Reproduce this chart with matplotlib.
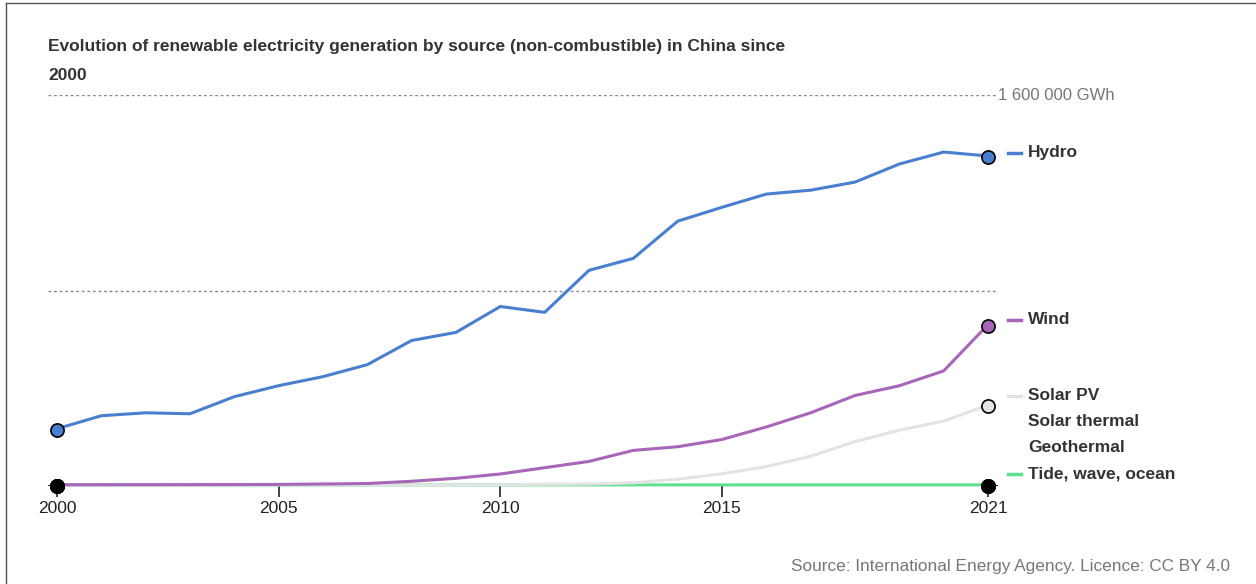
import numpy as np
import matplotlib.pyplot as plt
import matplotlib.transforms as mtransforms
from matplotlib.lines import Line2D

plt.rcParams['font.family'] = ['Liberation Sans', 'DejaVu Sans']

# ── Data (GWh) ─────────────────────────────────────────────────────────────
years = list(range(2000, 2022))

hydro = [229700, 283000, 295000, 291000, 361000, 406000, 443000, 492000,
         591000, 624000, 730000, 706000, 878000, 927000, 1079000, 1136000,
         1190000, 1206000, 1239000, 1313000, 1362000, 1346000]
wind = [600, 700, 900, 1000, 1300, 2000, 3700, 5700,
        14800, 26900, 44600, 70300, 96000, 141200, 156100, 185800,
        237100, 295000, 365800, 405700, 466500, 655600]
solar_pv = [20, 20, 20, 30, 40, 50, 80, 110,
            150, 280, 700, 2600, 3600, 8400, 23500, 45200,
            75000, 117000, 177000, 224000, 261000, 327000]
solar_thermal = [0, 0, 0, 0, 0, 0, 0, 0, 0, 0, 0, 0,
                 0, 0, 0, 0, 0, 0, 200, 400, 1300, 1700]
geothermal = [100, 100, 100, 100, 100, 100, 100, 100, 100, 100, 100, 100,
              100, 100, 100, 100, 120, 120, 130, 130, 130, 130]
tide = [10, 10, 10, 10, 10, 10, 10, 10, 10, 10, 10, 10,
        10, 10, 10, 10, 10, 10, 10, 10, 7, 7]

# drawing order: later entries are drawn on top
series = [
    ("Geothermal", geothermal, "black", "black"),
    ("Solar thermal", solar_thermal, "black", "black"),
    ("Tide, wave, ocean", tide, "#5fe08e", "black"),
    ("Solar PV", solar_pv, "#e3e3e3", "#e3e3e3"),
    ("Wind", wind, "#a866b8", "#a866b8"),
    ("Hydro", hydro, "#4a7fcf", "#4a7fcf"),
]

# label y position in pixels (from top), and whether a colour dash is shown
label_pos = {
    "Hydro": 153, "Wind": 320, "Solar PV": 396,
    "Solar thermal": 422, "Geothermal": 448, "Tide, wave, ocean": 474,
}
dash_labels = {"Hydro", "Wind", "Solar PV", "Tide, wave, ocean"}

W, H = 1256, 584
fig = plt.figure(figsize=(W / 100, H / 100), dpi=100)

# axes box in pixels: left 48, right 998, top 95, bottom 486
ax = fig.add_axes([48 / W, 1 - 486 / H, 950 / W, (486 - 95) / H])
ax.set_xlim(2000 - 9 / 44.333, 2021 + 10 / 44.333)
ax.set_ylim(0, 1600000)

# lines sit just above the baseline, so shift them up a little
up = ax.transData + mtransforms.ScaledTranslation(0, 0.8 / 72, fig.dpi_scale_trans)
for name, vals, col, mcol in series:
    if col == "black":
        continue
    ax.plot(years, vals, color=col, lw=2.2, zorder=3, transform=up,
            solid_capstyle='round', clip_on=False)

# baseline axis
ax.axhline(0, color="#222222", lw=1.4, zorder=2)

# end markers: coloured series first, near-zero (black) ones on top
for name, vals, col, mcol in series[3:] + series[:3]:
    ax.plot([years[0], years[-1]], [vals[0], vals[-1]], ls='none',
            marker='o', ms=9.5, mfc=mcol, mec='black', mew=1.2,
            zorder=5, clip_on=False)

# gridlines
for gy in (800000, 1600000):
    ax.axhline(gy, color="#888888", lw=1, ls=(0, (2, 2)), zorder=1)

for s in ax.spines.values():
    s.set_visible(False)
ax.set_yticks([])
ax.set_xticks([2000, 2005, 2010, 2015, 2021])
ax.tick_params(axis='x', length=8, width=1.2, color="#222222",
               labelsize=12.5, labelcolor="#222222", pad=3)

ax.text(1.0, 1600000, "1 600 000 GWh", transform=ax.get_yaxis_transform(),
        ha='left', va='center', fontsize=12, color="#777777")

# right-side labels
for name, vals, col, mcol in series:
    yf = 1 - label_pos[name] / H
    if name in dash_labels:
        fig.add_artist(Line2D([1008 / W, 1021 / W], [yf, yf], color=col,
                              lw=2.5))
    fig.text(1028 / W, yf, name, ha='left', va='center', fontsize=12.5,
             fontweight='bold', color="#333333")

# title
fig.text(48 / W, 1 - 46 / H,
         "Evolution of renewable electricity generation by source "
         "(non-combustible) in China since",
         ha='left', va='center', fontsize=12.5, fontweight='bold',
         color="#333333")
fig.text(48 / W, 1 - 76 / H, "2000", ha='left', va='center', fontsize=12.5,
         fontweight='bold', color="#333333")

# source
fig.text(1230 / W, 1 - 566 / H,
         "Source: International Energy Agency. Licence: CC BY 4.0",
         ha='right', va='center', fontsize=12.4, color="#777777")

# frame on left and top
fig.add_artist(Line2D([6 / W, 6 / W], [0, 1 - 3 / H], color="#555555", lw=1))
fig.add_artist(Line2D([6 / W, 1], [1 - 3 / H, 1 - 3 / H], color="#555555",
                      lw=1))

fig.savefig("out.png", dpi=100)
